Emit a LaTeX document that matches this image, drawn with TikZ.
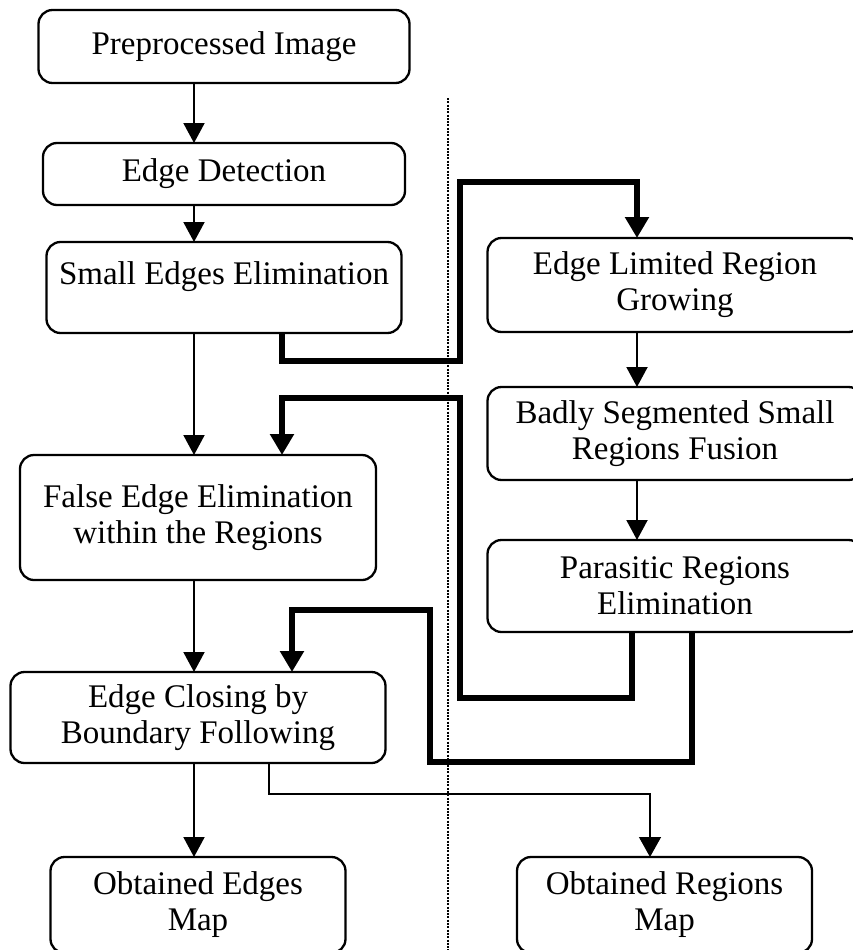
\documentclass[tikz,border=0pt]{standalone}
\usepackage{fontspec}
\setmainfont{Liberation Serif}
\usetikzlibrary{positioning,arrows.meta}

\begin{document}
\begin{tikzpicture}[
    x=1pt, y=-1pt,
    font=\fontsize{33}{36}\selectfont,
    box/.style      = {rectangle, rounded corners=14pt, draw, line width=2.3pt,
                       align=center, inner sep=0pt, outer sep=0pt},
    flow/.style     = {-{Triangle[length=20pt,width=21pt]}, line width=2pt},
    bigflow/.style  = {-{Triangle[length=21pt,width=23pt]}, line width=6pt},
    thinflow/.style = {-{Triangle[length=20pt,width=22pt]}, line width=1.3pt},
    divider/.style  = {line width=2.4pt, dash pattern=on 2pt off 1.3pt}
]
\useasboundingbox (0,0) rectangle (853,950);

% --- Left column: edge based chain ------------------------------------------
\node[box, minimum width=371pt, minimum height=73pt]                       (pre) at (224,46.5)
  {Preprocessed Image};
\node[box, minimum width=362pt, minimum height=62pt,  below=60pt of pre]   (edet)
  {Edge Detection};
\node[box, minimum width=355pt, minimum height=91pt,  below=37pt of edet]  (small)
  {Small Edges Elimination\\[-8pt]\mbox{}};
\node[box, minimum width=356pt, minimum height=125pt, below=122pt of small, xshift=-26pt] (falseedge)
  {False Edge Elimination\\within the Regions};
\node[box, minimum width=375pt, minimum height=91pt,  below=92pt of falseedge] (closing)
  {Edge Closing by\\Boundary Following};
\node[box, minimum width=295pt, minimum height=96pt,  below=94pt of closing]   (edgesmap)
  {Obtained Edges\\Map};

% --- Right column: region based chain ---------------------------------------
\node[box, minimum width=375pt, minimum height=94pt]                       (grow) at (675,285)
  {Edge Limited Region\\Growing};
\node[box, minimum width=375pt, minimum height=93pt,  below=55pt of grow]  (fusion)
  {Badly Segmented Small\\Regions Fusion};
\node[box, minimum width=375pt, minimum height=92pt,  below=60pt of fusion] (parasitic)
  {Parasitic Regions\\Elimination};
\node[box, minimum width=295pt, minimum height=96pt,  below=225pt of parasitic, xshift=-10.5pt] (regmap)
  {Obtained Regions\\Map};

% --- Guides -------------------------------------------------------------------
\coordinate (mainx)  at (194,0);
\coordinate (sidex)  at (637,0);
\coordinate (divtop) at (448,98);
\coordinate (divbot) at (448,950);

% --- Flows --------------------------------------------------------------------
\draw[flow] (pre.south -| mainx)       -- (edet.north -| mainx);
\draw[flow] (edet.south -| mainx)      -- (small.north -| mainx);
\draw[flow] (small.south -| mainx)     -- (falseedge.north -| mainx);
\draw[flow] (falseedge.south -| mainx) -- (closing.north -| mainx);
\draw[flow] (closing.south -| mainx)   -- (edgesmap.north -| mainx);
\draw[flow] (grow.south -| sidex)      -- (fusion.north -| sidex);
\draw[flow] (fusion.south -| sidex)    -- (parasitic.north -| sidex);

% Cross links between the two chains (thick)
\draw[bigflow] ([xshift=58pt]small.south) -- ++(0,28) -- ++(178,0) -- ++(0,-179)
               -| (grow.north -| sidex);
\draw[bigflow] ([xshift=-43pt]parasitic.south) -- ++(0,66) -- ++(-172,0) -- ++(0,-300)
               -| ([xshift=84pt]falseedge.north);
\draw[bigflow] ([xshift=17pt]parasitic.south) -- ++(0,130) -- ++(-262,0) -- ++(0,-152)
               -| ([xshift=94pt]closing.north);
\draw[thinflow] ([xshift=71pt]closing.south) -- ++(0,31) -| ([xshift=-14.5pt]regmap.north);

% Separator between edge and region parts
\draw[divider] (divtop) -- (divbot);

\end{tikzpicture}
\end{document}
